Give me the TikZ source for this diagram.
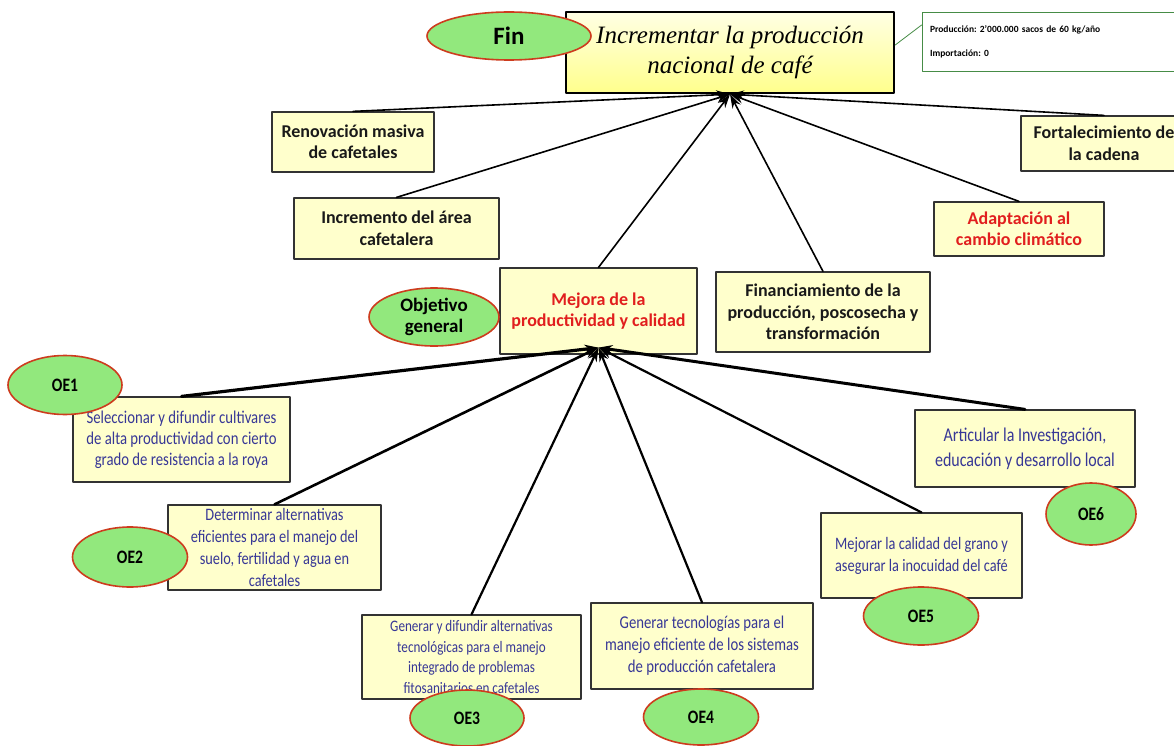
\documentclass[tikz,border=0pt]{standalone}
\usepackage{fontspec}
\setmainfont{Carlito}
\newfontfamily\narrowfont[FakeStretch=0.82]{Carlito}
\newfontfamily\titlefont{Liberation Serif}
\usetikzlibrary{arrows.meta,shapes.geometric}
\definecolor{boxfill}{RGB}{255,255,204}
\definecolor{ovalfill}{RGB}{146,232,125}
\definecolor{ovaledge}{RGB}{205,60,30}
\definecolor{oetext}{RGB}{55,55,150}
\definecolor{redtext}{RGB}{225,30,30}
\definecolor{infoedge}{RGB}{70,140,70}
\newcommand\oefont[2]{\narrowfont\fontsize{#1}{#2}\selectfont}
\frenchspacing

\begin{document}
\begin{tikzpicture}[x=1pt,y=-1pt,line join=round,line cap=round,>={Stealth[length=14pt,width=9pt]},
  caja/.style={draw=black!80,line width=1.2pt,fill=boxfill,align=center,inner sep=0pt},
  negrita/.style={font=\bfseries\fontsize{18}{21.5}\selectfont,text=black!90},
  objesp/.style={text=oetext},
  ovalo/.style={ellipse,draw=ovaledge,line width=1.6pt,fill=ovalfill,inner sep=0pt,align=center,font=\bfseries\fontsize{19}{21.5}\selectfont},
  etiq/.style={font=\narrowfont\bfseries\fontsize{19}{21}\selectfont},
  enlace/.style={->,line width=1.6pt},
  enlacegr/.style={->,line width=2.6pt}]
  \path[use as bounding box,fill=white] (0,0) rectangle (1174,746);

  \node[draw=black,line width=2.4pt,top color={rgb,255:red,255;green,255;blue,228},bottom color={rgb,255:red,255;green,255;blue,140},
    minimum width=328pt,minimum height=81pt,inner sep=0pt,align=center,font=\titlefont\itshape\fontsize{25}{30}\selectfont]
    (meta) at (730,52.5) {Incrementar la producción\\nacional de café};
  \node[draw=infoedge,line width=0.8pt,fill=white,minimum width=254pt,minimum height=59pt,inner sep=0pt,
    text width=238pt,align=left,font=\bfseries\fontsize{9.5}{24}\selectfont] (info) at (1049,41.5)
    {Producción: 2’000.000 sacos de 60 kg/año\\Importación: 0};

  \node[caja,negrita,minimum width=162pt,minimum height=60pt] (renov) at (353,142) {Renovación masiva\\de cafetales};
  \node[caja,negrita,minimum width=205pt,minimum height=61pt] (increm) at (396.5,228.5) {Incremento del área\\cafetalera};
  \node[caja,negrita,minimum width=166pt,minimum height=55pt] (fortal) at (1104,143.5) {Fortalecimiento de\\la cadena};
  \node[caja,negrita,text=redtext,minimum width=170pt,minimum height=54pt] (adapt) at (1019,229) {Adaptación al\\cambio climático};
  \node[caja,negrita,text=redtext,minimum width=197pt,minimum height=86pt] (mejora) at (598.5,311) {Mejora de la\\productividad y calidad};
  \node[caja,negrita,minimum width=214pt,minimum height=80pt] (financ) at (823,312) {Financiamiento de la\\producción, poscosecha y\\transformación};

  \node[caja,objesp,font=\oefont{18}{21},minimum width=217pt,minimum height=85pt] (oe1) at (181.5,439.5)
    {Seleccionar y difundir cultivares\\de alta productividad con cierto\\grado de resistencia a la roya};
  \node[caja,objesp,font=\oefont{17.5}{22},minimum width=213pt,minimum height=85pt] (oe2) at (274.5,547.5)
    {Determinar alternativas\\eficientes para el manejo del\\suelo, fertilidad y agua en\\cafetales};
  \node[caja,objesp,font=\oefont{16}{20.7},minimum width=219pt,minimum height=84pt] (oe3) at (471.5,657)
    {Generar y difundir alternativas\\tecnológicas para el manejo\\integrado de problemas\\fitosanitarios en cafetales};
  \node[caja,objesp,font=\oefont{18}{22},minimum width=222pt,minimum height=86pt] (oe4) at (702,646)
    {Generar tecnologías para el\\manejo eficiente de los sistemas\\de producción cafetalera};
  \node[caja,objesp,font=\oefont{17.5}{22},minimum width=201pt,minimum height=85pt] (oe5) at (921.5,555.5)
    {Mejorar la calidad del grano y\\asegurar la inocuidad del café};
  \node[caja,objesp,font=\oefont{19.5}{25},minimum width=220pt,minimum height=77pt] (oe6) at (1025,448.5)
    {Articular la Investigación,\\educación y desarrollo local};

  \coordinate (puntaOG) at ([yshift=7pt]mejora.south);
  \draw[infoedge,line width=0.8pt] ([yshift=7.5pt]meta.east) -- ([yshift=16.5pt]info.west);
  \draw[enlace] (renov.north) -- (meta.south);
  \draw[enlace] (increm.north) -- (meta.south);
  \draw[enlace] (mejora.north) -- (meta.south);
  \draw[enlace] (financ.north) -- (meta.south);
  \draw[enlace] (adapt.north) -- (meta.south);
  \draw[enlace] (fortal.north) -- (meta.south);
  \draw[enlacegr,line width=3.2pt] (oe1.north) -- (puntaOG);
  \draw[enlacegr] (oe2.north) -- (puntaOG);
  \draw[enlacegr,line width=2.2pt] (oe3.north) -- (puntaOG);
  \draw[enlacegr,line width=2.2pt] (oe4.north) -- (puntaOG);
  \draw[enlacegr,line width=2.2pt] (oe5.north) -- (puntaOG);
  \draw[enlacegr,line width=3pt] (oe6.north) -- (puntaOG);

  \node[ovalo,minimum width=164pt,minimum height=48pt,font=\bfseries\fontsize{25}{30}\selectfont] (fin) at (509,36) {Fin};
  \node[ovalo,minimum width=130pt,minimum height=58pt] (og) at (434,317) {Objetivo\\general};
  \node[ovalo,etiq,minimum width=114pt,minimum height=59pt] (c1) at (65,385) {OE1};
  \node[ovalo,etiq,minimum width=115pt,minimum height=60pt] (c2) at (130,557) {OE2};
  \node[ovalo,etiq,minimum width=114pt,minimum height=56pt] (c3) at (467,718) {OE3};
  \node[ovalo,etiq,minimum width=115pt,minimum height=56pt] (c4) at (701,717) {OE4};
  \node[ovalo,etiq,minimum width=115pt,minimum height=58pt] (c5) at (921,616) {OE5};
  \node[ovalo,etiq,minimum width=90pt,minimum height=62pt] (c6) at (1091,514) {OE6};
\end{tikzpicture}
\end{document}
